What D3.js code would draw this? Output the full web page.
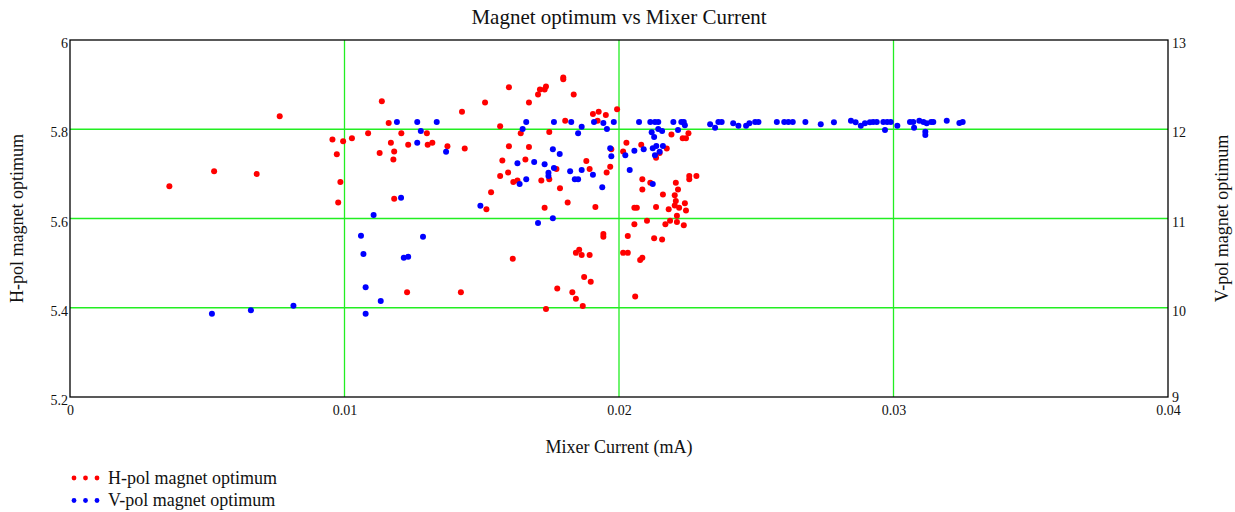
<!DOCTYPE html>
<html>
<head>
<meta charset="utf-8">
<script src="https://cdn.jsdelivr.net/npm/d3@7"></script>
<style>
  html, body { margin: 0; padding: 0; background: #fff; }
  svg { display: block; font-family: "Liberation Serif", "Times New Roman", serif; }
</style>
</head>
<body>
<svg id="chart" width="1235" height="512"></svg>
<script>
// Mixer current (mA) and H-pol magnet optimum
const hpolCurrent = [
  0.00362,0.00525,0.00680,0.00764,0.00956,0.00995,0.01027,0.00972,0.00985,0.00977,
  0.01136,0.01161,0.01086,0.01207,0.01169,0.01232,0.01300,0.01303,0.01320,0.01128,
  0.01181,0.01178,0.01181,0.01375,0.01428,0.01438,0.01512,0.01599,0.01567,0.01642,
  0.01672,0.01599,0.01672,0.01575,0.01659,0.01596,0.01567,0.01615,0.01630,0.01534,
  0.01517,0.01613,0.01228,0.01424,0.01705,0.01712,0.01729,0.01734,0.01797,0.01797,
  0.01835,0.01746,0.01804,0.01905,0.01926,0.01922,0.01952,0.01993,0.01717,0.01746,
  0.01772,0.01785,0.01729,0.01813,0.01881,0.01893,0.01968,0.01955,0.01914,0.01972,
  0.01943,0.01943,0.01843,0.01855,0.01864,0.01893,0.01873,0.01897,0.01775,0.01830,
  0.01843,0.01868,0.01734,0.02027,0.02015,0.02081,0.02085,0.02085,0.02114,0.02056,
  0.02065,0.02135,0.02160,0.02102,0.02056,0.02032,0.02128,0.02157,0.02015,0.02032,
  0.02077,0.02085,0.02059,0.02191,0.02232,0.02244,0.02253,0.02174,0.02148,0.02135,
  0.02207,0.02215,0.02256,0.02256,0.02282,0.02203,0.02207,0.02203,0.02219,0.02240,
  0.02244,0.02181,0.02211,0.02186,0.02211,0.02169,0.02236
];
const hpolField = [
  5.672,5.706,5.700,5.829,5.777,5.773,5.780,5.744,5.682,5.636,
  5.863,5.814,5.791,5.791,5.770,5.765,5.791,5.765,5.770,5.747,
  5.750,5.732,5.644,5.762,5.839,5.757,5.860,5.894,5.807,5.791,
  5.860,5.762,5.760,5.730,5.732,5.703,5.695,5.682,5.685,5.659,
  5.621,5.510,5.435,5.435,5.878,5.889,5.889,5.896,5.916,5.912,
  5.878,5.794,5.819,5.834,5.839,5.819,5.832,5.845,5.685,5.688,
  5.711,5.668,5.624,5.636,5.729,5.711,5.716,5.703,5.626,5.755,
  5.565,5.559,5.523,5.530,5.518,5.518,5.469,5.458,5.443,5.435,
  5.420,5.404,5.397,5.770,5.750,5.765,5.688,5.665,5.680,5.624,
  5.624,5.626,5.654,5.595,5.587,5.561,5.556,5.553,5.523,5.523,
  5.507,5.512,5.425,5.788,5.780,5.780,5.791,5.757,5.747,5.736,
  5.680,5.665,5.695,5.688,5.695,5.652,5.639,5.629,5.624,5.634,
  5.618,5.621,5.606,5.595,5.592,5.587,5.585
];

// Mixer current (mA) and V-pol magnet optimum
const vpolCurrent = [
  0.00517,0.00659,0.00814,0.01060,0.01191,0.01265,0.01336,0.01278,0.01265,0.01370,
  0.01206,0.01106,0.01069,0.01286,0.01216,0.01232,0.01077,0.01132,0.01077,0.01495,
  0.01662,0.01649,0.01630,0.01662,0.01638,0.01763,0.01826,0.01864,0.01851,0.01909,
  0.01943,0.01956,0.01981,0.01759,0.01784,0.01691,0.01729,0.01763,0.01743,0.01743,
  0.01822,0.01864,0.01905,0.01839,0.01851,0.01939,0.01968,0.01972,0.01705,0.01759,
  0.02073,0.02114,0.02131,0.02143,0.02198,0.02227,0.02236,0.02240,0.02119,0.02143,
  0.02157,0.02215,0.02128,0.02056,0.02090,0.02123,0.02136,0.02148,0.02160,0.02131,
  0.02023,0.02039,0.02123,0.02332,0.02350,0.02362,0.02374,0.02416,0.02435,0.02463,
  0.02475,0.02496,0.02508,0.02575,0.02602,0.02617,0.02633,0.02679,0.02735,0.02783,
  0.02845,0.02862,0.02881,0.02896,0.02914,0.02926,0.02939,0.02963,0.02977,0.02990,
  0.02969,0.03014,0.03060,0.03072,0.03075,0.03094,0.03109,0.03121,0.03137,0.03145,
  0.03116,0.03116,0.03194,0.03240,0.03252
];
const vpolField = [
  9.934,9.972,10.023,10.807,12.081,12.081,12.081,11.980,11.849,11.749,
  11.233,11.039,10.602,10.796,10.561,10.572,10.229,10.076,9.934,11.143,
  12.081,12.003,11.619,11.439,11.387,12.081,12.081,12.029,11.955,12.081,
  12.070,12.003,12.081,11.775,11.723,11.633,11.607,11.566,11.513,11.476,
  11.529,11.543,11.491,11.439,11.439,11.350,11.787,11.697,10.950,11.002,
  12.081,12.081,12.081,12.081,12.081,12.081,12.081,12.044,11.966,12.003,
  11.980,11.992,11.913,11.760,11.775,11.787,11.812,11.749,11.812,11.708,
  11.708,11.543,11.387,12.056,12.017,12.081,12.081,12.067,12.040,12.040,
  12.067,12.081,12.081,12.081,12.081,12.081,12.081,12.081,12.056,12.078,
  12.096,12.078,12.040,12.067,12.078,12.081,12.081,12.081,12.081,12.081,
  11.992,12.040,12.081,12.081,12.017,12.096,12.081,12.067,12.081,12.081,
  11.973,11.936,12.096,12.070,12.081
];

// Axis ticks
const xTicks = [0, 0.01, 0.02, 0.03, 0.04];
const xTickLabels = ["0", "0.01", "0.02", "0.03", "0.04"];
const yLeftTicks = [5.2, 5.4, 5.6, 5.8, 6];
const yLeftTickLabels = ["5.2", "5.4", "5.6", "5.8", "6"];
const yRightTicks = [9, 10, 11, 12, 13];
const yRightTickLabels = ["9", "10", "11", "12", "13"];

const seriesNames = ["H-pol magnet optimum", "V-pol magnet optimum"];
const seriesColors = ["#ff0000", "#0000ff"];

const plot = { left: 70, right: 1168, top: 40, bottom: 397 };
const fontFamily = "'Liberation Serif', 'Times New Roman', serif";

const svg = d3.select("#chart");

const x = d3.scaleLinear().domain([0, 0.04]).range([plot.left, plot.right]);
const yL = d3.scaleLinear().domain([5.2, 6]).range([plot.bottom, plot.top]);
const yR = d3.scaleLinear().domain([9, 13]).range([plot.bottom, plot.top]);

// Grid lines
const grid = svg.append("g").attr("stroke", "#22ee22").attr("stroke-width", 1.3);
grid.selectAll("line.gx").data(xTicks.slice(1, -1)).join("line")
  .attr("x1", d => x(d)).attr("x2", d => x(d))
  .attr("y1", plot.top).attr("y2", plot.bottom);
grid.selectAll("line.gy").data(yLeftTicks.slice(1, -1)).join("line")
  .attr("x1", plot.left).attr("x2", plot.right)
  .attr("y1", d => yL(d)).attr("y2", d => yL(d));

// Axes with labels only (frame drawn separately)
const fmtFrom = (ticks, labels) => d => labels[ticks.indexOf(d)];

const xAxis = svg.append("g")
  .attr("transform", `translate(0,${plot.bottom})`)
  .call(d3.axisBottom(x).tickValues(xTicks).tickFormat(fmtFrom(xTicks, xTickLabels)).tickSize(0).tickPadding(8));
const yAxisL = svg.append("g")
  .attr("transform", `translate(${plot.left},0)`)
  .call(d3.axisLeft(yL).tickValues(yLeftTicks).tickFormat(fmtFrom(yLeftTicks, yLeftTickLabels)).tickSize(0).tickPadding(2));
const yAxisR = svg.append("g")
  .attr("transform", `translate(${plot.right},0)`)
  .call(d3.axisRight(yR).tickValues(yRightTicks).tickFormat(fmtFrom(yRightTicks, yRightTickLabels)).tickSize(0).tickPadding(4));

[xAxis, yAxisL, yAxisR].forEach(g => {
  g.select(".domain").remove();
  g.selectAll("text")
    .attr("font-family", fontFamily)
    .attr("font-size", 14)
    .attr("fill", "#111");
});
yAxisL.selectAll("text").attr("dy", "0.55em");
yAxisR.selectAll("text").attr("dy", (d, i) => d === 9 ? "0.3em" : "0.55em");
xAxis.selectAll("text").attr("dy", "0.72em");

// Plot frame
svg.append("rect")
  .attr("x", plot.left).attr("y", plot.top)
  .attr("width", plot.right - plot.left).attr("height", plot.bottom - plot.top)
  .attr("fill", "none").attr("stroke", "#000").attr("stroke-width", 1.3);

// Data points
const hData = hpolCurrent.map((c, i) => ({ c, v: hpolField[i] }));
const vData = vpolCurrent.map((c, i) => ({ c, v: vpolField[i] }));

svg.append("g").selectAll("circle").data(hData).join("circle")
  .attr("cx", d => x(d.c)).attr("cy", d => yL(d.v)).attr("r", 3)
  .attr("fill", seriesColors[0]);
svg.append("g").selectAll("circle").data(vData).join("circle")
  .attr("cx", d => x(d.c)).attr("cy", d => yR(d.v)).attr("r", 3)
  .attr("fill", seriesColors[1]);

// Titles
svg.append("text")
  .attr("x", (plot.left + plot.right) / 2).attr("y", 24)
  .attr("text-anchor", "middle").attr("font-size", 21).attr("fill", "#111")
  .text("Magnet optimum vs Mixer Current");

svg.append("text")
  .attr("x", (plot.left + plot.right) / 2).attr("y", 453)
  .attr("text-anchor", "middle").attr("font-size", 18).attr("fill", "#111")
  .text("Mixer Current (mA)");

svg.append("text")
  .attr("transform", `translate(23,${(plot.top + plot.bottom) / 2}) rotate(-90)`)
  .attr("text-anchor", "middle").attr("font-size", 18).attr("fill", "#111")
  .text("H-pol magnet optimum");

svg.append("text")
  .attr("transform", `translate(1228,${(plot.top + plot.bottom) / 2}) rotate(-90)`)
  .attr("text-anchor", "middle").attr("font-size", 18).attr("fill", "#111")
  .text("V-pol magnet optimum");

// Legend
const legend = svg.append("g");
seriesNames.forEach((name, i) => {
  const y0 = 478 + i * 22.5;
  legend.selectAll(null).data([74, 85.5, 97]).join("circle")
    .attr("cx", d => d).attr("cy", y0).attr("r", 2.4)
    .attr("fill", seriesColors[i]);
  legend.append("text")
    .attr("x", 108).attr("y", y0 + 5.5)
    .attr("font-size", 18).attr("fill", "#111")
    .text(name);
});
</script>
</body>
</html>
